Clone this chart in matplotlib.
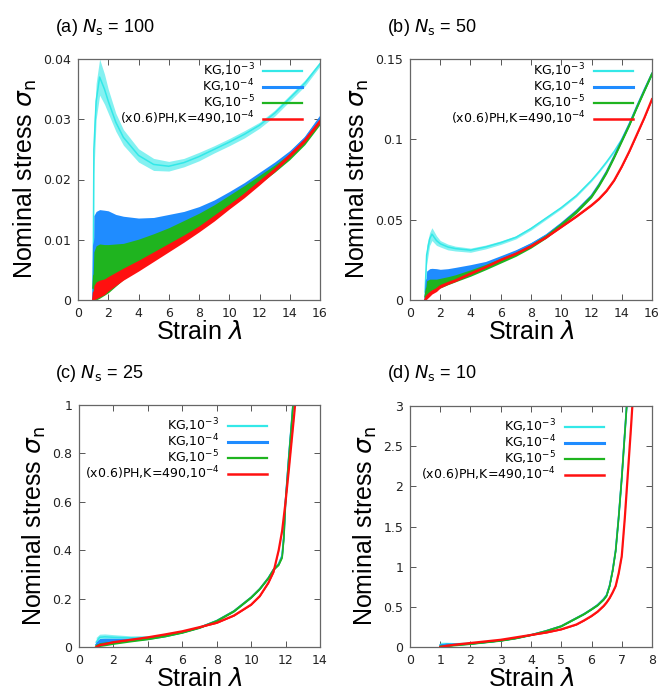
import matplotlib
matplotlib.use("Agg")
import matplotlib.pyplot as plt
import numpy as np

# ---------------- data ----------------
# panel (a) N_s = 100
xa = [1.0, 1.05, 1.2, 1.43, 1.75, 2, 2.5, 3, 4, 5, 6, 7, 8, 9, 10, 11, 12, 13, 14, 15, 16]
a_kg3 = [0.0, 0.025, 0.033, 0.037, 0.035, 0.033, 0.0295, 0.027, 0.024, 0.0225, 0.0222, 0.0228, 0.0238, 0.025, 0.0262, 0.0275, 0.029, 0.031, 0.0335, 0.036, 0.0392]
a_kg3_hw = [0.0, 0.004, 0.003, 0.003, 0.0025, 0.002, 0.0015, 0.0013, 0.0011, 0.001, 0.0008, 0.0007, 0.0007, 0.0006, 0.0006, 0.0006, 0.0005, 0.0005, 0.0005, 0.0005, 0.0004]
a_kg4 = [0.0, 0.009, 0.0105, 0.011, 0.0112, 0.0113, 0.0112, 0.0111, 0.0111, 0.0117, 0.0124, 0.0132, 0.0142, 0.0155, 0.017, 0.0187, 0.0205, 0.0223, 0.0243, 0.0268, 0.0303]
a_kg4_hw = [0.0, 0.005, 0.0042, 0.004, 0.0037, 0.0035, 0.003, 0.0028, 0.0025, 0.002, 0.0018, 0.0015, 0.0013, 0.0011, 0.001, 0.0008, 0.0007, 0.0006, 0.0005, 0.0004, 0.0003]
a_kg5 = [0.002, 0.004, 0.0045, 0.0048, 0.005, 0.0052, 0.0058, 0.0064, 0.0076, 0.009, 0.0103, 0.0118, 0.0132, 0.0148, 0.0165, 0.0182, 0.02, 0.0218, 0.0238, 0.0263, 0.0295]
a_kg5_hw = [0.002, 0.004, 0.0045, 0.0045, 0.0042, 0.004, 0.0035, 0.003, 0.0025, 0.002, 0.0017, 0.0014, 0.0012, 0.001, 0.0009, 0.0008, 0.0007, 0.0006, 0.0005, 0.0005, 0.0004]
a_ph = [0.0, 0.0012, 0.0016, 0.0019, 0.0022, 0.0027, 0.0035, 0.0043, 0.0057, 0.0072, 0.0087, 0.0102, 0.0118, 0.0136, 0.0155, 0.0174, 0.0195, 0.0216, 0.024, 0.0265, 0.0297]
a_ph_hw = [0.0005, 0.0012, 0.0014, 0.0014, 0.0013, 0.0012, 0.0011, 0.001, 0.0009, 0.0008, 0.0007, 0.0006, 0.0005, 0.0005, 0.0004, 0.0004, 0.0004, 0.0003, 0.0003, 0.0003, 0.0003]

# panel (b) N_s = 50
xb = [1.0, 1.1, 1.3, 1.45, 1.75, 2, 2.5, 3, 4, 5, 6, 7, 8, 9, 10, 11, 12, 12.5, 13, 13.5, 14, 14.5, 15, 15.5, 16]
b_kg3 = [0.005, 0.028, 0.038, 0.041, 0.037, 0.035, 0.033, 0.032, 0.031, 0.033, 0.0357, 0.039, 0.0445, 0.051, 0.0575, 0.065, 0.0745, 0.08, 0.086, 0.0925, 0.1, 0.1095, 0.12, 0.1305, 0.1405]
b_kg3_hw = [0.005, 0.006, 0.004, 0.004, 0.003, 0.002, 0.0018, 0.0015, 0.0013, 0.0012, 0.0011, 0.001, 0.001, 0.0009, 0.0008, 0.0008, 0.0007, 0.0007, 0.0007, 0.0006, 0.0006, 0.0006, 0.0006, 0.0005, 0.0005]
b_kg4 = [0.0, 0.012, 0.0145, 0.0152, 0.0155, 0.0156, 0.0165, 0.0175, 0.0195, 0.022, 0.0258, 0.0298, 0.0345, 0.0402, 0.0475, 0.0555, 0.065, 0.072, 0.08, 0.0895, 0.0995, 0.1095, 0.1205, 0.131, 0.141]
b_kg4_hw = [0.0, 0.006, 0.005, 0.0045, 0.004, 0.0035, 0.003, 0.0028, 0.0025, 0.002, 0.0018, 0.0015, 0.0013, 0.0011, 0.001, 0.0009, 0.0008, 0.0008, 0.0008, 0.0008, 0.0008, 0.0008, 0.0008, 0.0008, 0.0008]
b_kg5 = [0.002, 0.007, 0.009, 0.0095, 0.01, 0.0105, 0.012, 0.0135, 0.0168, 0.0205, 0.0245, 0.0285, 0.0335, 0.0395, 0.047, 0.055, 0.0645, 0.0715, 0.0795, 0.089, 0.099, 0.109, 0.12, 0.1305, 0.141]
b_kg5_hw = [0.002, 0.005, 0.004, 0.0035, 0.003, 0.003, 0.0025, 0.0022, 0.002, 0.0017, 0.0015, 0.0013, 0.0012, 0.0011, 0.001, 0.001, 0.0009, 0.0009, 0.0009, 0.0009, 0.0009, 0.0009, 0.0009, 0.0009, 0.0009]
b_ph = [0.0, 0.002, 0.0038, 0.005, 0.0065, 0.0085, 0.0105, 0.0122, 0.0165, 0.0205, 0.025, 0.0288, 0.0335, 0.039, 0.0455, 0.052, 0.059, 0.063, 0.068, 0.0745, 0.083, 0.0925, 0.103, 0.1135, 0.125]
b_ph_hw = [0.001, 0.0015, 0.0015, 0.0013, 0.0012, 0.001, 0.0008, 0.0007, 0.0006, 0.0005, 0.0005, 0.0005, 0.0005, 0.0005, 0.0005, 0.0005, 0.0005, 0.0005, 0.0005, 0.0005, 0.0005, 0.0005, 0.0005, 0.0005, 0.0005]

# panel (c) N_s = 25
xc = [1.0, 1.2, 1.5, 2, 3, 4, 5, 6, 7, 8, 9, 10, 10.5, 11, 11.3, 11.6, 11.8, 11.9, 12.0, 12.2, 12.35, 12.5, 12.6]
c_kg3 = [0.02, 0.04, 0.042, 0.04, 0.038, 0.04, 0.048, 0.062, 0.081, 0.109, 0.149, 0.205, 0.24, 0.285, 0.32, 0.345, 0.38, 0.46, 0.61, 0.8, 0.93, 1.07, 1.15]
c_kg3_hw = [0.02, 0.013, 0.012, 0.011, 0.008, 0.006, 0.004, 0.003, 0.002, 0.002, 0.002, 0.002, 0.002, 0.002, 0.002, 0.002, 0.002, 0.002, 0.002, 0.002, 0.002, 0.002, 0.002]
c_kg4 = [0.01, 0.025, 0.027, 0.028, 0.03, 0.036, 0.046, 0.061, 0.08, 0.108, 0.148, 0.205, 0.24, 0.285, 0.32, 0.342, 0.375, 0.455, 0.605, 0.795, 0.925, 1.065, 1.15]
c_kg4_hw = [0.01, 0.01, 0.009, 0.008, 0.006, 0.005, 0.004, 0.003, 0.002, 0.002, 0.002, 0.002, 0.002, 0.002, 0.002, 0.002, 0.002, 0.002, 0.002, 0.002, 0.002, 0.002, 0.002]
c_kg5 = [0.005, 0.01, 0.013, 0.018, 0.026, 0.034, 0.045, 0.06, 0.08, 0.108, 0.148, 0.205, 0.24, 0.285, 0.32, 0.34, 0.37, 0.45, 0.6, 0.79, 0.92, 1.06, 1.15]
c_kg5_hw = [0.005, 0.008, 0.008, 0.007, 0.005, 0.004, 0.003, 0.003, 0.003, 0.003, 0.003, 0.003, 0.003, 0.003, 0.003, 0.003, 0.003, 0.003, 0.003, 0.003, 0.003, 0.003, 0.003]
c_ph = [0.0, 0.008, 0.012, 0.02, 0.03, 0.04, 0.052, 0.065, 0.082, 0.1, 0.13, 0.175, 0.21, 0.265, 0.31, 0.40, 0.48, 0.54, 0.6, 0.74, 0.85, 0.96, 1.04]
c_ph_hw = [0.002] * 23

# panel (d) N_s = 10
xd = [1.0, 1.2, 1.5, 2, 2.5, 3, 3.5, 4, 4.5, 5, 5.5, 5.75, 6, 6.2, 6.4, 6.5, 6.6, 6.7, 6.8, 6.9, 7.0, 7.1, 7.2, 7.3, 7.4]
d_kg3 = [0.03, 0.04, 0.04, 0.045, 0.062, 0.082, 0.11, 0.15, 0.2, 0.26, 0.36, 0.41, 0.47, 0.525, 0.6, 0.65, 0.77, 0.96, 1.21, 1.63, 2.11, 2.66, 3.2, 3.8, 4.4]
d_kg3_hw = [0.03, 0.02, 0.015, 0.01, 0.006, 0.005, 0.005, 0.005, 0.005, 0.005, 0.005, 0.006, 0.008, 0.01, 0.012, 0.012, 0.01, 0.01, 0.01, 0.01, 0.01, 0.01, 0.01, 0.01, 0.01]
d_kg4 = [0.02, 0.03, 0.032, 0.042, 0.06, 0.08, 0.11, 0.15, 0.2, 0.26, 0.36, 0.41, 0.47, 0.522, 0.595, 0.645, 0.765, 0.955, 1.205, 1.625, 2.105, 2.655, 3.2, 3.8, 4.4]
d_kg4_hw = [0.02, 0.015, 0.012, 0.008, 0.006, 0.005, 0.005, 0.005, 0.005, 0.005, 0.005, 0.005, 0.005, 0.005, 0.005, 0.005, 0.005, 0.005, 0.005, 0.005, 0.005, 0.005, 0.005, 0.005, 0.005]
d_kg5 = [0.01, 0.015, 0.025, 0.04, 0.06, 0.08, 0.11, 0.15, 0.2, 0.26, 0.36, 0.41, 0.47, 0.52, 0.59, 0.64, 0.76, 0.95, 1.2, 1.62, 2.1, 2.65, 3.2, 3.8, 4.4]
d_kg5_hw = [0.01, 0.012, 0.01, 0.008, 0.008, 0.008, 0.008, 0.008, 0.008, 0.008, 0.008, 0.008, 0.008, 0.008, 0.008, 0.008, 0.008, 0.008, 0.008, 0.008, 0.008, 0.008, 0.008, 0.008, 0.008]
d_ph = [0.0, 0.015, 0.03, 0.05, 0.07, 0.09, 0.12, 0.15, 0.18, 0.22, 0.28, 0.33, 0.386, 0.44, 0.51, 0.555, 0.61, 0.68, 0.76, 0.92, 1.13, 1.6, 2.15, 2.7, 3.3]
d_ph_hw = [0.006] * 25

labels = ["KG,10$^{-3}$", "KG,10$^{-4}$", "KG,10$^{-5}$", "(x0.6)PH,K=490,10$^{-4}$"]
colors = ["#33e8e8", "#1f8cff", "#1fb41f", "#ff1010"]
band_alpha = [0.6, 1.0, 1.0, 1.0]
line_w = [1.1, 1.3, 1.2, 1.6]

panel_titles = ["(a) $N_\\mathrm{s}$ = 100", "(b) $N_\\mathrm{s}$ = 50",
                "(c) $N_\\mathrm{s}$ = 25", "(d) $N_\\mathrm{s}$ = 10"]
xlims = [(0, 16), (0, 16), (0, 14), (0, 8)]
ylims = [(0, 0.04), (0, 0.15), (0, 1), (0, 3)]
xticks = [np.arange(0, 17, 2), np.arange(0, 17, 2), np.arange(0, 15, 2), np.arange(0, 9, 1)]
yticks = [[0, 0.01, 0.02, 0.03, 0.04], [0, 0.05, 0.1, 0.15],
          [0, 0.2, 0.4, 0.6, 0.8, 1], [0, 0.5, 1, 1.5, 2, 2.5, 3]]
ytick_labels = [["0", "0.01", "0.02", "0.03", "0.04"], ["0", "0.05", "0.1", "0.15"],
                ["0", "0.2", "0.4", "0.6", "0.8", "1"], ["0", "0.5", "1", "1.5", "2", "2.5", "3"]]
legend_anchor = [(0.926, 0.99), (0.921, 0.99), (0.78, 0.953), (0.80, 0.953)]

panels = [
    (xa, [(a_kg3, a_kg3_hw), (a_kg4, a_kg4_hw), (a_kg5, a_kg5_hw), (a_ph, a_ph_hw)]),
    (xb, [(b_kg3, b_kg3_hw), (b_kg4, b_kg4_hw), (b_kg5, b_kg5_hw), (b_ph, b_ph_hw)]),
    (xc, [(c_kg3, c_kg3_hw), (c_kg4, c_kg4_hw), (c_kg5, c_kg5_hw), (c_ph, c_ph_hw)]),
    (xd, [(d_kg3, d_kg3_hw), (d_kg4, d_kg4_hw), (d_kg5, d_kg5_hw), (d_ph, d_ph_hw)]),
]

# ---------------- figure ----------------
W, H = 662, 691
fig = plt.figure(figsize=(W / 100, H / 100), dpi=100)
fig.patch.set_facecolor("white")

boxes = [(78, 59, 320, 300), (410, 59, 652, 300), (79, 405, 320, 647), (410, 406, 652, 647)]
title_pos = [(55, 28), (387, 28), (55, 373), (387, 373)]

label_font = "Liberation Sans"
tick_font = "DejaVu Sans"

for i, (box, (x, series)) in enumerate(zip(boxes, panels)):
    l, t, r, b = box
    ax = fig.add_axes([l / W, (H - b) / H, (r - l) / W, (b - t) / H])
    handles = []
    for (m, hw), c, al, lw, lab in zip(series, colors, band_alpha, line_w, labels):
        m = np.asarray(m)
        hw = np.asarray(hw)
        ax.fill_between(x, m - hw, m + hw, color=c, alpha=al, lw=0, zorder=2)
        h, = ax.plot(x, m, color=c, lw=lw, zorder=2, label=lab)
        handles.append(h)
    ax.set_xlim(*xlims[i])
    ax.set_ylim(*ylims[i])
    ax.set_xticks(xticks[i])
    ax.set_yticks(yticks[i])
    ax.set_yticklabels(ytick_labels[i])
    ax.tick_params(direction="in", length=4, width=0.7, color="#555555",
                   top=True, right=True, labelsize=9, pad=5, labelcolor="#222222")
    for lbl in ax.get_xticklabels() + ax.get_yticklabels():
        lbl.set_fontfamily(tick_font)
    for sp in ax.spines.values():
        sp.set_color("#666666")
        sp.set_linewidth(0.9)
    ax.set_ylabel("Nominal stress $\\sigma_\\mathrm{n}$", fontsize=18, family=label_font, labelpad=3)
    ax.set_xlabel("Strain $\\lambda$", fontsize=18, family=label_font, labelpad=0)
    leg = ax.legend(handles=handles, loc="upper right", bbox_to_anchor=legend_anchor[i],
                    frameon=False, markerfirst=False, handlelength=3.1,
                    handletextpad=0.7, labelspacing=-0.12, borderpad=0, borderaxespad=0,
                    prop={"family": tick_font, "size": 9})
    for lh, lw in zip(leg.get_lines(), [1.6, 2.2, 1.6, 1.8]):
        lh.set_linewidth(lw)
    tx, ty = title_pos[i]
    fig.text(tx / W, 1 - ty / H, panel_titles[i], fontsize=13, family=label_font,
             ha="left", va="center")

fig.savefig("out.png", dpi=100)
